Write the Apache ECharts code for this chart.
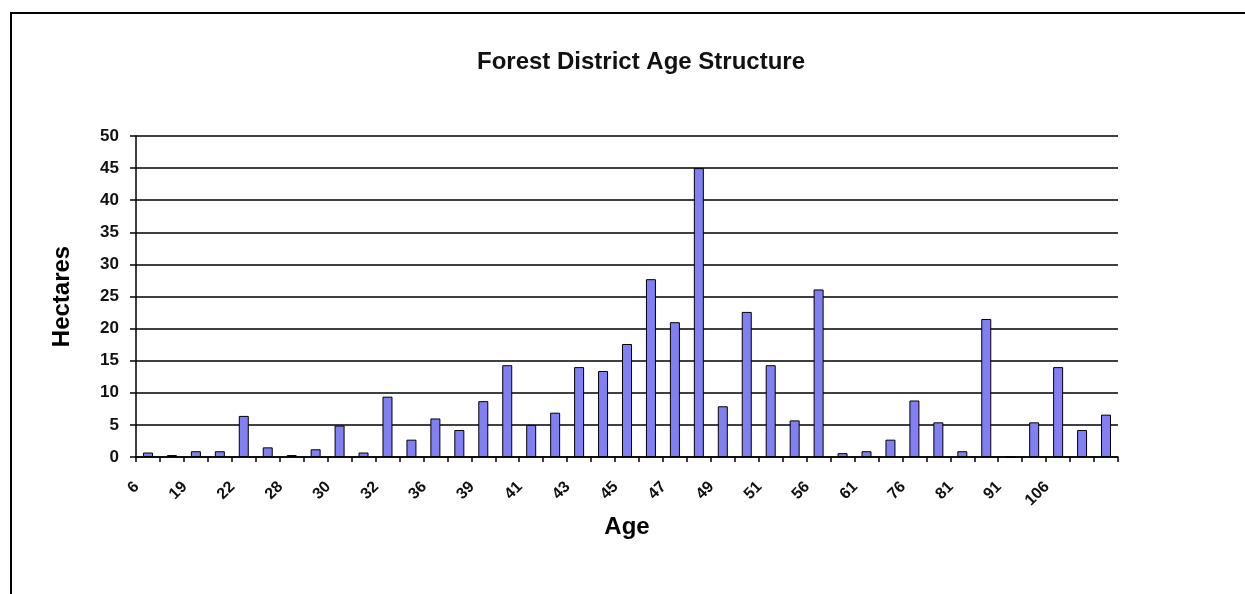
<!DOCTYPE html>
<html>
<head>
<meta charset="utf-8">
<script src="https://cdn.jsdelivr.net/npm/echarts@6/dist/echarts.min.js"></script>
<style>
html,body{margin:0;padding:0;background:#fff;}
#chart{width:1245px;height:594px;}
</style>
</head>
<body>
<div id="chart"></div>
<script>
const titleText = 'Forest District Age Structure';
const xAxisName = 'Age';
const yAxisName = 'Hectares';
const ages = ['6','15','19','21','22','26','28','29','30','31','32','33','36','37','39','40','41','42','43','44','45','46','47','48','49','50','51','52','56','59','61','71','76','79','81','86','91','101','106','111','116'];
const hectares = [0.7,0.3,0.9,0.9,6.4,1.5,0.3,1.2,4.9,0.7,9.4,2.7,6.0,4.2,8.7,14.3,5.0,6.9,14.0,13.4,17.6,27.7,21.0,45.0,7.9,22.6,14.3,5.7,26.1,0.6,0.9,2.7,8.8,5.4,0.9,21.5,0,5.4,14.0,4.2,6.6];
const yTicks = {min:0, max:50, interval:5};

const chart = echarts.init(document.getElementById('chart'), null, {renderer:'canvas'});
const font = '"Liberation Sans", Arial, sans-serif';
chart.setOption({
  backgroundColor:'#ffffff',
  animation:false,
  title:{
    text:titleText, left:636, top:45, textAlign:'center',
    textStyle:{fontFamily:font, fontSize:24, fontWeight:'bold', color:'#111'}
  },
  graphic:[
    {type:'line', shape:{x1:10,y1:13,x2:1245,y2:13}, style:{stroke:'#000', lineWidth:2}},
    {type:'line', shape:{x1:11,y1:12,x2:11,y2:594}, style:{stroke:'#000', lineWidth:2}}
  ],
  grid:{left:136, right:127, top:136, bottom:137, containLabel:false},
  xAxis:{
    type:'category', data:ages,
    name:xAxisName, nameLocation:'middle', nameGap:57,
    nameTextStyle:{fontFamily:font, fontSize:24, fontWeight:'bold', color:'#000'},
    axisLine:{lineStyle:{color:'#000', width:1.5}},
    axisTick:{show:true, length:5, inside:false, alignWithLabel:false, interval:0, lineStyle:{color:'#000', width:1.5}},
    axisLabel:{
      rotate:45, margin:16, padding:[0,16,0,0], fontFamily:font, fontSize:16, fontWeight:'bold', color:'#111',
      interval:function(i){ return i % 2 === 0 && i < 40; }
    },
    splitLine:{show:false}
  },
  yAxis:{
    type:'value', min:yTicks.min, max:yTicks.max, interval:yTicks.interval,
    name:yAxisName, nameLocation:'middle', nameGap:62, nameRotate:90,
    nameTextStyle:{fontFamily:font, fontSize:24, fontWeight:'bold', color:'#000'},
    axisLine:{show:true, lineStyle:{color:'#000', width:1.5}},
    axisTick:{show:true, length:6, lineStyle:{color:'#000', width:1.5}},
    axisLabel:{margin:17, fontFamily:font, fontSize:17, fontWeight:'bold', color:'#111'},
    splitLine:{show:true, lineStyle:{color:'#000', width:1.5}}
  },
  series:[{
    type:'bar', data:hectares, barWidth:10,
    itemStyle:{color:'#8080f4', borderColor:'#000', borderWidth:1}
  }]
});
</script>
</body>
</html>
